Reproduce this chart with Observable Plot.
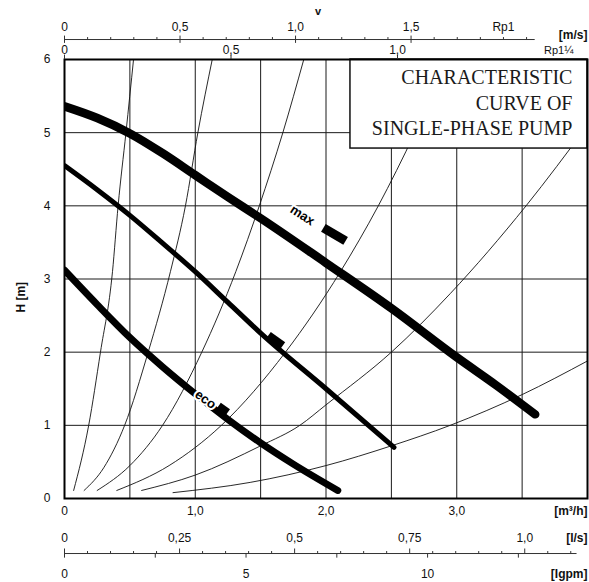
<!DOCTYPE html>
<html><head><meta charset="utf-8">
<script src="https://cdn.jsdelivr.net/npm/d3@7"></script>
<script src="https://cdn.jsdelivr.net/npm/@observablehq/plot@0.6"></script>
<style>body{margin:0;background:#fff} #chart{width:589px;height:582px}</style>
</head><body><div id="chart"></div>
<script>
// ---- axis ticks and labels ----
const headTicks = [0,1,2,3,4,5,6];
const flowTicks = [0,1,2,3];
const flowTickLabels = ["0","1,0","2,0","3,0"];
const gridFlow = [0.5,1,1.5,2,2.5,3,3.5];
const gridHead = [1,2,3,4,5];
const velTicks1 = [0,0.5,1.0,1.5];
const velLabels1 = ["0","0,5","1,0","1,5"];
const velMinor1 = [0.1,0.2,0.3,0.4,0.6,0.7,0.8,0.9,1.1,1.2,1.3,1.4,1.6,1.7,1.8,1.9,2.0];
const velTicks2 = [0,0.5,1.0];
const velLabels2 = ["0","0,5","1,0"];
const lsTicks = [0,0.25,0.5,0.75,1.0];
const lsLabels = ["0","0,25","0,5","0,75","1,0"];
const lsMinor = [0.05,0.1,0.15,0.2,0.3,0.35,0.4,0.45,0.55,0.6,0.65,0.7,0.8,0.85,0.9,0.95,1.05,1.1];
const gpmTicks = [0,2.5,5,7.5,10,12.5];
const gpmLabels = ["0","","5","","10",""];
const titleLines = ["CHARACTERISTIC","CURVE OF","SINGLE-PHASE PUMP"];

// ---- pump curves [Q m3/h, H m] ----
const curveMax = [[0,5.36],[0.25,5.2],[0.5,4.99],[0.75,4.72],[1.0,4.42],[1.25,4.12],[1.5,3.83],[2.0,3.22],[2.5,2.6],[3.0,1.93],[3.3,1.55],[3.6,1.15]];
const curveMid = [[0,4.55],[0.25,4.22],[0.5,3.87],[0.75,3.49],[1.0,3.1],[1.25,2.68],[1.5,2.26],[2.0,1.5],[2.52,0.70]];
const curveEco = [[0,3.12],[0.25,2.65],[0.5,2.2],[0.75,1.8],[1.0,1.43],[1.25,1.08],[1.5,0.76],[1.75,0.47],[2.09,0.11]];
// markers on the curves
const markerMax = [[1.98,3.70],[2.15,3.52]];
const markerMid = [[1.56,2.23],[1.67,2.09]];
const markerEco = [[1.18,1.27],[1.25,1.18]];
// ---- system (pipe) curves [Q, H] ----
const sysA = [[0.07,0.11],[0.185,1.0],[0.275,2.0],[0.367,3.1],[0.41,4.0],[0.47,5.0],[0.528,6.0]];
const sysB = [[0.15,0.11],[0.3,0.42],[0.46,1.0],[0.64,2.0],[0.81,3.1],[0.925,4.0],[1.02,5.0],[1.13,6.0]];
const sysC = [[0.25,0.11],[0.5,0.45],[0.75,1.0],[1.05,2.0],[1.31,3.1],[1.49,4.0],[1.67,5.0],[1.83,6.0]];
const sysD = [[0.40,0.11],[0.8,0.45],[1.2,1.0],[1.69,2.0],[2.11,3.1],[2.4,4.0],[2.68,5.0],[2.93,6.0]];
const sysE = [[0.59,0.11],[1.0,0.32],[1.5,0.72],[1.8,1.0],[2.0,1.28],[2.5,2.0],[2.95,2.8],[3.53,4.0],[4.0,5.1]];
const sysF = [[0.83,0.08],[1.42,0.22],[2.0,0.45],[2.5,0.72],[2.95,1.0],[3.5,1.42],[4.0,1.88]];
const curveLabels = ["max","eco"];

// ---- layout (positions) ----
const vToQ1 = 1.767, vToQ2 = 2.547, lsToQ = 3.52, gpmToQ = 0.2777;
const titleBox = {x1:2.187, x2:4.0, y1:4.783, y2:6.0};
const titleLineH = [5.755, 5.40, 5.06];
const labelPos = [{q:1.82,h:3.87,r:33},{q:1.078,h:1.353,r:36}];

const font = "Liberation Sans, Arial, sans-serif";
const pts = a => a.map(d => ({q:d[0], h:d[1]}));
const systemRows = [sysA,sysB,sysC,sysD,sysE,sysF].flatMap((s,k) => s.map(d => ({q:d[0], h:d[1], id:k})));

const axisText = {fontFamily: font, fontSize: 12, fill: "#111"};

const chart = Plot.plot({
  width: 589, height: 582,
  marginLeft: 64, marginRight: 2, marginTop: 59, marginBottom: 84,
  x: {domain: [0,4], axis: null},
  y: {domain: [0,6], axis: null},
  style: {background: "white", overflow: "visible"},
  marks: [
    Plot.ruleX(gridFlow, {x: d=>d, y1: 0, y2: 6, stroke: "#1a1a1a", strokeWidth: 1}),
    Plot.ruleY(gridHead, {y: d=>d, x1: 0, x2: 4, stroke: "#1a1a1a", strokeWidth: 1}),
    Plot.line(systemRows, {x: "q", y: "h", z: "id", curve: "monotone-x", stroke: "#111", strokeWidth: 0.9, clip: true}),
    Plot.line(pts(curveMax), {x: "q", y: "h", curve: "monotone-x", stroke: "#000", strokeWidth: 8.5, clip: true}),
    Plot.line(pts(curveMid), {x: "q", y: "h", curve: "monotone-x", stroke: "#000", strokeWidth: 5, clip: true}),
    Plot.line(pts(curveEco), {x: "q", y: "h", curve: "monotone-x", stroke: "#000", strokeWidth: 7, clip: true}),
    Plot.line(pts(markerMax), {x: "q", y: "h", stroke: "#000", strokeWidth: 9, strokeLinecap: "butt"}),
    Plot.line(pts(markerMid), {x: "q", y: "h", stroke: "#000", strokeWidth: 8, strokeLinecap: "butt"}),
    Plot.line(pts(markerEco), {x: "q", y: "h", stroke: "#000", strokeWidth: 7, strokeLinecap: "butt"}),
    Plot.text(curveLabels, {x: (d,i)=>labelPos[i].q, y: (d,i)=>labelPos[i].h, rotate: (d,i)=>labelPos[i].r, text: d=>d,
      fontFamily: font, fontSize: 13, fontWeight: "bold", fill: "#000", stroke: "white", strokeWidth: 4}),
    // title box
    Plot.rect([titleBox], {x1: "x1", x2: "x2", y1: "y1", y2: "y2", fill: "white", stroke: "#111", strokeWidth: 1.5}),
    Plot.text(titleLines, {x: 3.885, y: (d,i)=>titleLineH[i], text: d=>d, textAnchor: "end",
      fontFamily: "Liberation Serif, Times New Roman, serif", fontSize: 20, fill: "#1a1a1a"}),
    Plot.frame({stroke: "#000", strokeWidth: 2}),
    // left axis
    Plot.text(headTicks, {x: 0, y: d=>d, dx: -14, text: d=>String(d), textAnchor: "end", ...axisText}),
    Plot.text(["H [m]"], {x: -0.33, y: 2.75, rotate: -90, text: d=>d, fontFamily: font, fontSize: 12, fontWeight: "bold", fill: "#111"}),
    // bottom m3/h axis
    Plot.text(flowTicks, {x: d=>d, y: -0.178, text: (d,i)=>flowTickLabels[i], ...axisText}),
    Plot.text(["[m³/h]"], {x: 4.0, y: -0.178, text: d=>d, textAnchor: "end", ...axisText, fontWeight: "bold"}),
    // l/s and Igpm axis
    Plot.ruleY([-0.752], {x1: 0, x2: 3.92, stroke: "#333", strokeWidth: 1}),
    Plot.ruleX(lsTicks, {x: d=>d*lsToQ, y1: -0.752, y2: -0.69, stroke: "#333", strokeWidth: 1}),
    Plot.ruleX(lsMinor, {x: d=>d*lsToQ, y1: -0.752, y2: -0.725, stroke: "#333", strokeWidth: 1}),
    Plot.ruleX(gpmTicks, {x: d=>d*gpmToQ, y1: -0.752, y2: -0.815, stroke: "#333", strokeWidth: 1}),
    Plot.text(lsTicks, {x: d=>d*lsToQ, y: -0.547, text: (d,i)=>lsLabels[i], ...axisText}),
    Plot.text(gpmTicks, {x: d=>d*gpmToQ, y: -1.04, text: (d,i)=>gpmLabels[i], ...axisText}),
    Plot.text(["[l/s]"], {x: 4.0, y: -0.547, text: d=>d, textAnchor: "end", ...axisText, fontWeight: "bold"}),
    Plot.text(["[Igpm]"], {x: 4.0, y: -1.04, text: d=>d, textAnchor: "end", ...axisText, fontWeight: "bold"}),
    // top velocity axes
    Plot.text(["v"], {x: 1.94, y: 6.656, text: d=>d, ...axisText, fontWeight: "bold", fontSize: 11}),
    Plot.ruleY([6.273], {x1: 0, x2: 3.6, stroke: "#333", strokeWidth: 1}),
    Plot.ruleX(velTicks1, {x: d=>d*vToQ1, y1: 6.22, y2: 6.32, stroke: "#333", strokeWidth: 1}),
    Plot.ruleX(velMinor1, {x: d=>d*vToQ1, y1: 6.273, y2: 6.30, stroke: "#333", strokeWidth: 1}),
    Plot.text(velTicks1, {x: d=>d*vToQ1, y: 6.437, text: (d,i)=>velLabels1[i], ...axisText}),
    Plot.text(["Rp1"], {x: 3.357, y: 6.437, text: d=>d, ...axisText}),
    Plot.text(["[m/s]"], {x: 4.0, y: 6.33, text: d=>d, textAnchor: "end", ...axisText, fontWeight: "bold"}),
    Plot.ruleX(velTicks2, {x: d=>d*vToQ2, y1: 6.0, y2: 6.06, stroke: "#333", strokeWidth: 1}),
    Plot.text(velTicks2, {x: d=>d*vToQ2, y: 6.13, text: (d,i)=>velLabels2[i], ...axisText}),
    Plot.text(["Rp1¼"], {x: 3.78, y: 6.125, text: d=>d, ...axisText, fontSize: 11})
  ]
});
document.getElementById("chart").appendChild(chart);
</script>
</body></html>
